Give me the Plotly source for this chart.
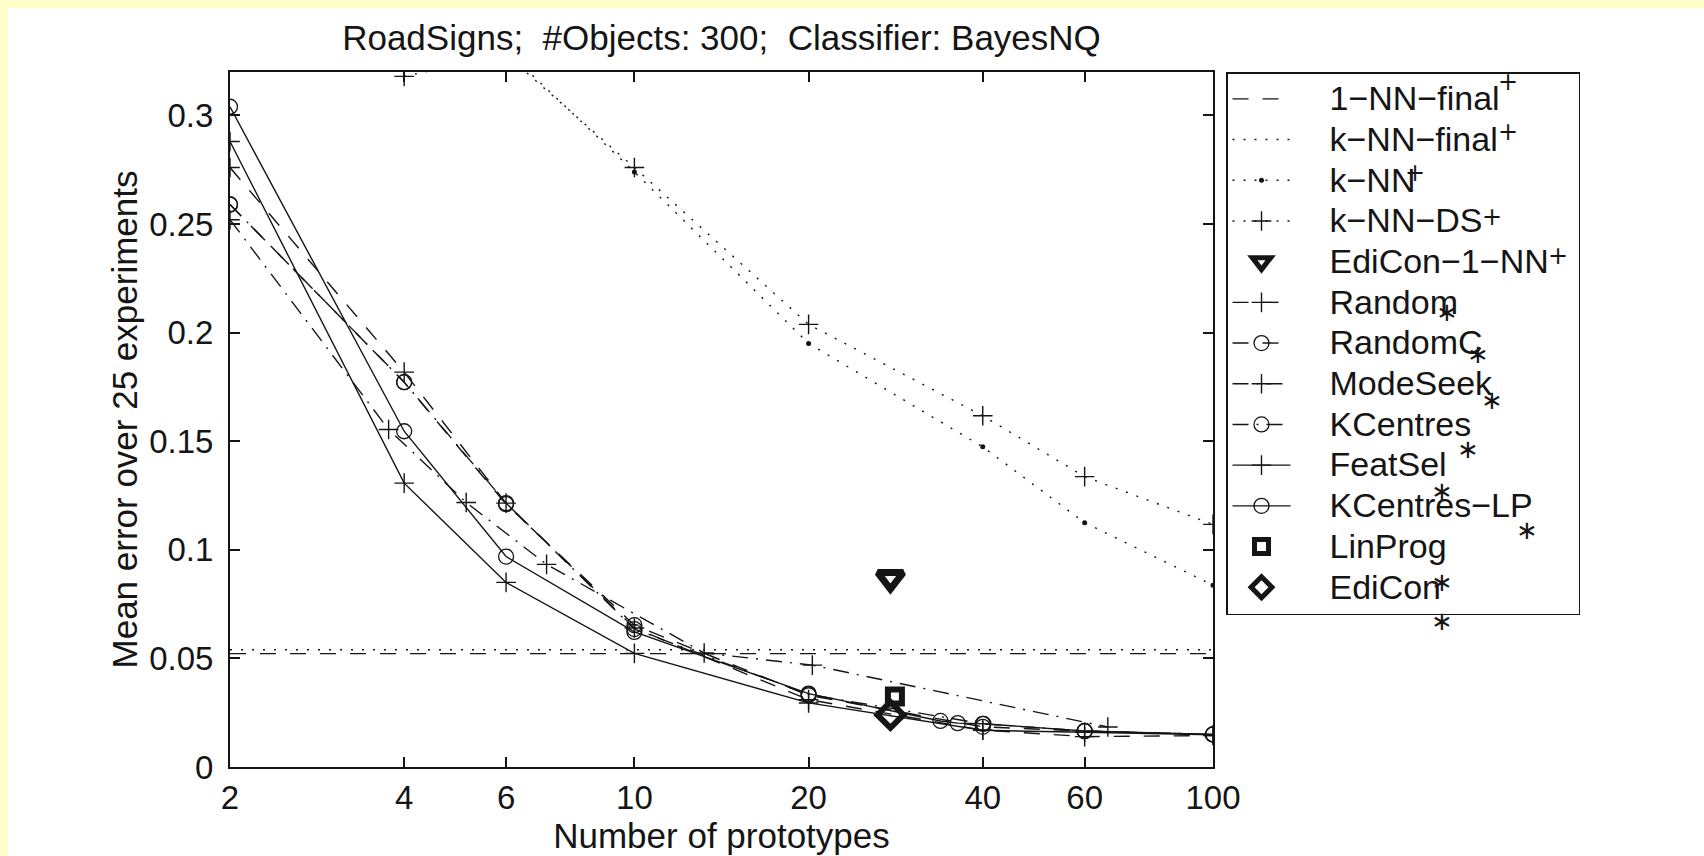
import plotly.graph_objects as go

# ---------------- data ----------------
x_std = [2, 4, 6, 10, 20, 40, 60, 100]

nn1_final = 0.0522
knn_final = 0.0540

knn_err = [0.400, 0.360, 0.330, 0.274, 0.195, 0.1474, 0.1125, 0.0837]
knnds_x = [4, 6, 10, 20, 40, 60, 100]
knnds_err = [0.318, 0.328, 0.276, 0.2038, 0.1617, 0.1337, 0.1117]

edicon1nn_x = [27.7]
edicon1nn_err = [0.0870]

random_err = [0.276, 0.1818, 0.1215, 0.0640, 0.0310, 0.0170, 0.0140, 0.0145]
randomc_err = [0.259, 0.1772, 0.1210, 0.0653, 0.0330, 0.0185, 0.0165, 0.0150]

modeseek_x = [2, 3.76, 5.12, 7.05, 13.2, 20.3, 65.8]
modeseek_err = [0.252, 0.1554, 0.1218, 0.0933, 0.0525, 0.0469, 0.0184]

kcentres_err = [0.259, 0.1772, 0.1215, 0.0635, 0.0334, 0.0199, 0.0166, 0.0150]
featsel_err = [0.288, 0.1307, 0.0850, 0.0523, 0.0295, 0.0169, 0.0160, 0.0148]

kcentreslp_x = [2, 4, 6, 10, 20, 33.8, 36.2, 40.1, 60, 100]
kcentreslp_err = [0.304, 0.1546, 0.0969, 0.0622, 0.0338, 0.0212, 0.0202, 0.0199, 0.0166, 0.0150]

linprog_x = [28.2]
linprog_err = [0.0325]
edicon_x = [27.7]
edicon_err = [0.0240]

x_tick_vals = [2, 4, 6, 10, 20, 40, 60, 100]
x_tick_text = ["2", "4", "6", "10", "20", "40", "60", "100"]
y_tick_vals = [0, 0.05, 0.1, 0.15, 0.2, 0.25, 0.3]
y_tick_text = ["0", "0.05", "0.1", "0.15", "0.2", "0.25", "0.3"]

title_text = "RoadSigns;\u00a0 #Objects: 300;\u00a0 Classifier: BayesNQ"
legend_names = ["1\u2212NN\u2212final", "k\u2212NN\u2212final", "k\u2212NN", "k\u2212NN\u2212DS",
                "EdiCon\u22121\u2212NN", "Random", "RandomC", "ModeSeek", "KCentres",
                "FeatSel", "KCentres\u2212LP", "LinProg", "EdiCon"]

# ---------------- styling ----------------
INK = "#151515"
FONT = "Liberation Sans, Arial, Helvetica, sans-serif"
LW = 1.4
DASH = "16px,14px"
DOT = "2px,9px"
DASHDOT = "16px,8px,2px,8px"
LEG_TXT = 34   # visible legend text size
LEG_ROW = 29   # size that sets the legend row pitch
LEAD = "\u2003"            # gap between legend sample and label
TRAIL = "\u2002\u2009"     # keeps the legend box as wide as the original

PLUS = dict(symbol="cross-thin-open", size=14, color=INK, line=dict(width=1.4, color=INK))
CIRC = dict(symbol="circle-open", size=15, color=INK, line=dict(width=1.3, color=INK))


def lname(i):
    return '<span style="font-size:%dpx">%s%s%s</span>' % (LEG_TXT, LEAD, legend_names[i], TRAIL)


fig = go.Figure()
x_lo, x_hi = x_std[0], x_std[-1]

fig.add_trace(go.Scatter(x=[x_lo, x_hi], y=[nn1_final, nn1_final], mode="lines",
                         name=lname(0), line=dict(color=INK, width=LW, dash=DASH)))
fig.add_trace(go.Scatter(x=[x_lo, x_hi], y=[knn_final, knn_final], mode="lines",
                         name=lname(1), line=dict(color=INK, width=LW, dash=DOT)))
fig.add_trace(go.Scatter(x=x_std, y=knn_err, mode="lines+markers", name=lname(2),
                         line=dict(color=INK, width=LW, dash=DOT),
                         marker=dict(symbol="circle", size=5, color=INK, line=dict(width=0))))
fig.add_trace(go.Scatter(x=knnds_x, y=knnds_err, mode="lines+markers", name=lname(3),
                         line=dict(color=INK, width=LW, dash=DOT), marker=PLUS))
fig.add_trace(go.Scatter(x=edicon1nn_x, y=edicon1nn_err, mode="markers", name=lname(4),
                         marker=dict(symbol="triangle-down-open", size=22, color=INK,
                                     line=dict(width=7, color=INK))))
fig.add_trace(go.Scatter(x=x_std, y=random_err, mode="lines+markers", name=lname(5),
                         line=dict(color=INK, width=LW, dash=DASH), marker=PLUS))
fig.add_trace(go.Scatter(x=x_std, y=randomc_err, mode="lines+markers", name=lname(6),
                         line=dict(color=INK, width=LW, dash=DASH), marker=CIRC))
fig.add_trace(go.Scatter(x=modeseek_x, y=modeseek_err, mode="lines+markers", name=lname(7),
                         line=dict(color=INK, width=LW, dash=DASHDOT), marker=PLUS))
fig.add_trace(go.Scatter(x=x_std, y=kcentres_err, mode="lines+markers", name=lname(8),
                         line=dict(color=INK, width=LW, dash=DASHDOT), marker=CIRC))
fig.add_trace(go.Scatter(x=x_std, y=featsel_err, mode="lines+markers", name=lname(9),
                         line=dict(color=INK, width=LW), marker=PLUS))
fig.add_trace(go.Scatter(x=kcentreslp_x, y=kcentreslp_err, mode="lines+markers", name=lname(10),
                         line=dict(color=INK, width=LW), marker=CIRC))
fig.add_trace(go.Scatter(x=linprog_x, y=linprog_err, mode="markers", name=lname(11),
                         marker=dict(symbol="square-open", size=14, color=INK,
                                     line=dict(width=6, color=INK))))
fig.add_trace(go.Scatter(x=edicon_x, y=edicon_err, mode="markers", name=lname(12),
                         marker=dict(symbol="diamond-open", size=20, color=INK,
                                     line=dict(width=6, color=INK))))

# ---------------- layout (page pixels; body margin removed) ----------------
W, H = 1704, 856
ML, MT = 230, 72
MR = W - 1213
MB = H - 767
PW, PH = W - ML - MR, H - MT - MB


def px_to_paper(px, py):
    """page pixel -> paper coordinate"""
    return (px - ML) / PW, 1 - (py - MT) / PH


# stray glyphs that appear around the legend of the original figure
stray_plus = [(1508, 82), (1508, 132), (1415, 173), (1492, 217), (1558, 256)]
stray_star = [(1447, 312), (1478, 354), (1492, 400), (1468, 449), (1442, 491),
              (1527, 530), (1442, 582), (1442, 621)]
annotations = []
for (px, py) in stray_plus:
    ax, ay = px_to_paper(px, py)
    annotations.append(dict(x=ax, y=ay, xref="paper", yref="paper", text="+", showarrow=False,
                            font=dict(family="DejaVu Sans", size=24, color=INK),
                            xanchor="center", yanchor="middle"))
for (px, py) in stray_star:
    ax, ay = px_to_paper(px, py)
    annotations.append(dict(x=ax, y=ay, xref="paper", yref="paper", text="\u2217", showarrow=False,
                            font=dict(family="DejaVu Sans", size=26, color=INK),
                            xanchor="center", yanchor="middle"))

# pale yellow strip along the top and left edge of the page
sx0, sy1 = px_to_paper(8, 8)
sx1, sy0 = px_to_paper(W + 4, H + 4)
shapes = [dict(type="rect", xref="paper", yref="paper", x0=sx0, x1=sx1, y0=sy0, y1=sy1,
               fillcolor="white", line=dict(width=0), layer="below")]

lx, _ = px_to_paper(1226, 71)

fig.update_layout(
    width=W, height=H,
    margin=dict(l=ML, r=MR, t=MT, b=MB, autoexpand=False),
    paper_bgcolor="#FFFFCC",
    plot_bgcolor="white",
    font=dict(family=FONT, size=33, color=INK),
    title=dict(text=title_text, x=0.5, xref="paper", xanchor="center",
               y=1 - 38 / H, yref="container", yanchor="middle",
               font=dict(family=FONT, size=35, color=INK)),
    showlegend=True,
    legend=dict(x=lx, y=1.0, xanchor="left", yanchor="top", maxheight=700,
                bgcolor="white", bordercolor=INK, borderwidth=1.5,
                font=dict(family=FONT, size=LEG_ROW, color=INK),
                itemwidth=58, tracegroupgap=0),
    xaxis=dict(type="log", range=[0.30103, 2.0], tickvals=x_tick_vals, ticktext=x_tick_text,
               ticks="inside", ticklen=10, tickwidth=1.5, tickcolor=INK,
               showline=True, linecolor=INK, linewidth=2, mirror="ticks",
               showgrid=False, zeroline=False, ticklabelstandoff=0,
               tickfont=dict(family=FONT, size=33, color=INK),
               title=dict(text="Number of prototypes", standoff=8,
                          font=dict(family=FONT, size=35, color=INK))),
    yaxis=dict(range=[0, 0.32], tickvals=y_tick_vals, ticktext=y_tick_text,
               ticks="inside", ticklen=10, tickwidth=1.5, tickcolor=INK,
               showline=True, linecolor=INK, linewidth=2, mirror="ticks",
               showgrid=False, zeroline=False, ticklabelstandoff=8,
               tickfont=dict(family=FONT, size=33, color=INK),
               title=dict(text="Mean error over 25 experiments", standoff=1,
                          font=dict(family=FONT, size=35, color=INK))),
    annotations=annotations,
    shapes=shapes,
)

fig.write_html("out.html",
               config={"displayModeBar": False},
               post_script="document.body.style.margin='0px';document.body.style.overflow='hidden';")
